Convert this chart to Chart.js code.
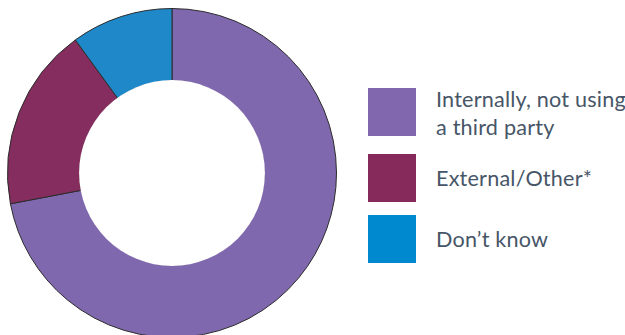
<!DOCTYPE html>
<html><head><meta charset="utf-8">
<script src="https://cdn.jsdelivr.net/npm/chart.js@4/dist/chart.umd.min.js"></script>
<style>
html,body{margin:0;padding:0;width:625px;height:335px;overflow:hidden;background:#fff;}
#wrap{position:absolute;left:7px;top:8px;width:330px;height:330px;}
#legend{position:absolute;left:368px;top:88px;font-family:Lato,"Open Sans",sans-serif;font-size:21.6px;letter-spacing:0.2px;color:#475667;}
.item{position:absolute;left:0;width:260px;}
.box{position:absolute;left:0;top:0;width:48px;height:48px;}
.txt{position:absolute;left:68px;line-height:28px;white-space:nowrap;}
</style></head><body>
<div id="wrap"><canvas id="c"></canvas></div>
<div id="legend"></div>
<script>
const categories = [["Internally, not using","a third party"],["External/Other*"],["Don\u2019t know"]];
const values = [72, 18, 10];
const colors = ["#8068AE","#852D5E","#1F88C8"];
const legendColors = ["#8067AE","#862A5C","#0089CF"];

const coverInner = {
  id:'coverInner',
  afterDatasetsDraw(chart){
    const meta = chart.getDatasetMeta(0);
    const arc = meta.data[0];
    if(!arc) return;
    const ctx = chart.ctx;
    ctx.save();
    ctx.beginPath();
    ctx.arc(arc.x, arc.y, arc.innerRadius + 0.8, 0, Math.PI*2);
    ctx.fillStyle = '#fff';
    ctx.fill();
    ctx.restore();
  }
};

new Chart(document.getElementById('c'), {
  type:'doughnut',
  data:{
    labels: categories.map(l=>l.join(' ')),
    datasets:[{data:values, backgroundColor:colors, borderColor:'#2b2b2b', borderWidth:1}]
  },
  options:{
    responsive:true, maintainAspectRatio:false, animation:false,
    cutout:'56%',
    layout:{padding:0},
    plugins:{legend:{display:false}, tooltip:{enabled:false}}
  },
  plugins:[coverInner]
});

const tops = [0, 66, 127];
const lg = document.getElementById('legend');
categories.forEach((lines,i)=>{
  const it = document.createElement('div');
  it.className='item'; it.style.top = tops[i]+'px';
  const b = document.createElement('div'); b.className='box'; b.style.background = legendColors[i];
  const t = document.createElement('div'); t.className='txt';
  t.style.top = (lines.length>1 ? -3 : 10)+'px';
  t.innerHTML = lines.join('<br>');
  it.appendChild(b); it.appendChild(t); lg.appendChild(it);
});
</script>
</body></html>
